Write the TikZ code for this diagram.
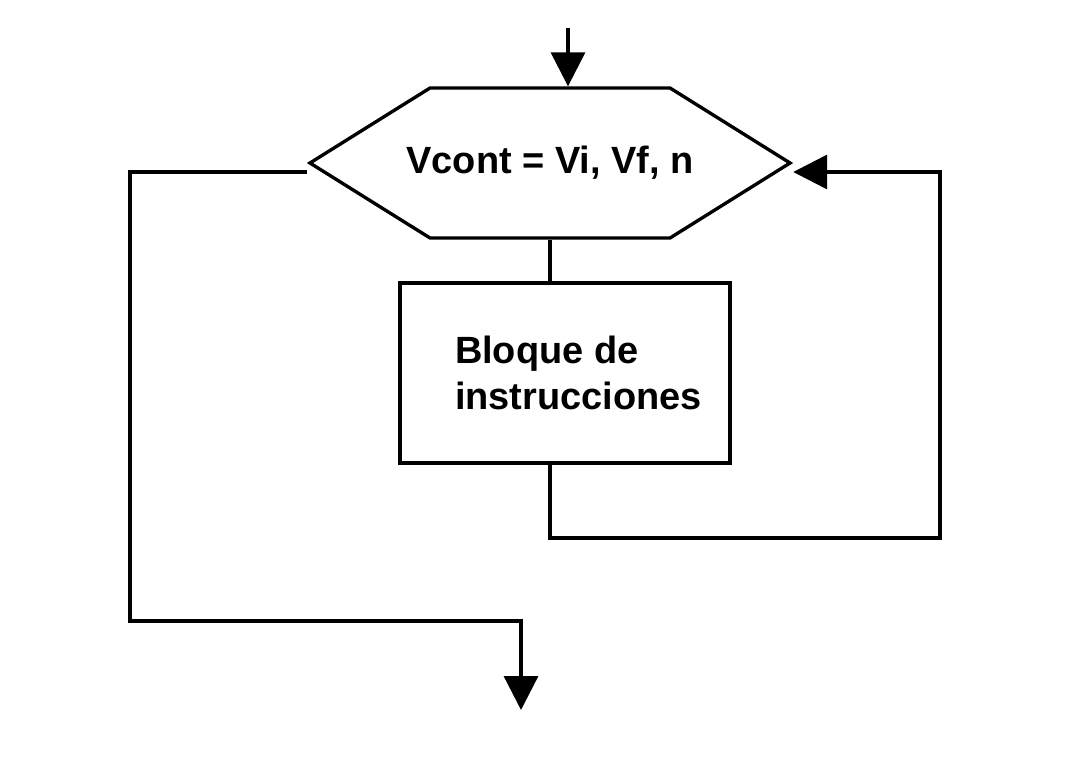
\documentclass[tikz,border=0pt]{standalone}
\usepackage{fontspec}
\setmainfont{Liberation Sans}
\usetikzlibrary{shapes.symbols,arrows.meta}

\begin{document}
\begin{tikzpicture}[line width=1.9pt,>={Triangle[length=0.68cm,width=0.68cm]},
 txt/.style={font=\fontsize{21.6}{26}\selectfont\bfseries},
 hexa/.style={draw,signal,signal to=west and east,signal pointer angle=64,
   minimum height=3cm,inner sep=0pt},
 block/.style={draw,minimum width=6.6cm,minimum height=3.6cm}]
 \useasboundingbox (0,0) rectangle (21.34,15.46);
 \node[hexa,txt] (cond) at (11.0,12.2) {\makebox[4.8cm]{Vcont = Vi, Vf, n}};
 \node[block] (body) at (11.3,8.0) {};
 \node[txt,align=left,anchor=west,inner sep=0pt] (bodytxt)
   at ([xshift=1.1cm]body.west) {Bloque de\\instrucciones};
 \coordinate (in) at (11.36,14.9);
 \coordinate (back) at (18.8,4.7);
 \coordinate (exitL) at (2.6,3.04);
 \coordinate (out) at (10.42,1.26);
 % entrada
 \draw[->] (in) -- (in |- cond.north);
 % cuerpo del ciclo
 \draw (cond.south) -- (cond.south |- body.north);
 \draw[->] (cond.south |- body.south) -- (cond.south |- back) -- (back)
   |- ([yshift=-0.18cm]cond.east);
 % salida
 \draw[->] ([yshift=-0.18cm]cond.west) -| (exitL) -- (exitL -| out) -- (out);
\end{tikzpicture}
\end{document}
